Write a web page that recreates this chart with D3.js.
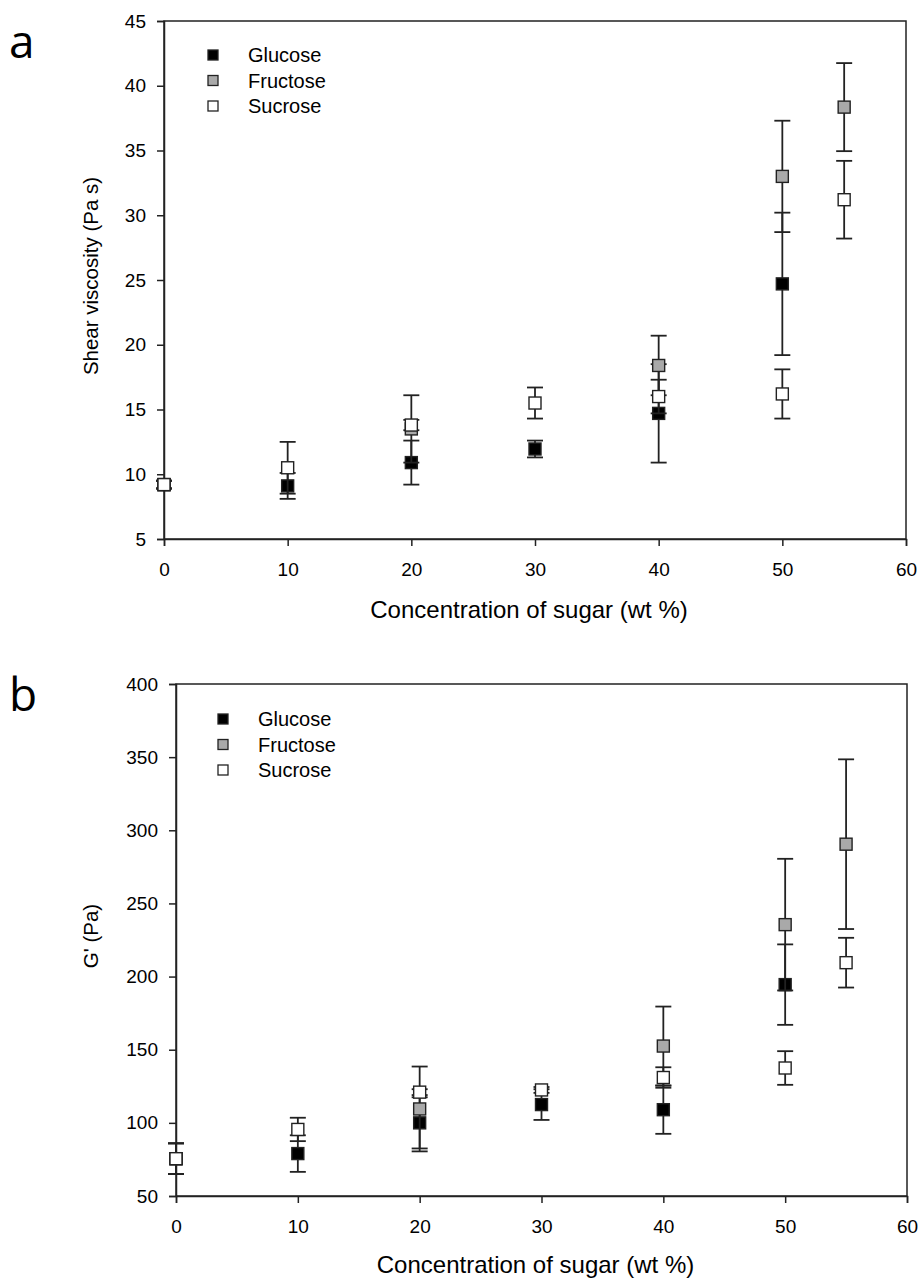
<!DOCTYPE html>
<html>
<head>
<meta charset="utf-8">
<script src="https://cdn.jsdelivr.net/npm/d3@7"></script>
<style>
  body { margin: 0; background: #fff; }
  svg text { font-family: "Liberation Sans", Arial, sans-serif; fill: #000; }
  .panel-letter { font-family: "Open Sans", "DejaVu Sans", sans-serif; }
</style>
</head>
<body>
<div id="chart"></div>
<script>
// sugar concentrations (wt %)
const concentrations = [0, 10, 20, 30, 40, 50, 55];
const seriesNames = ["Glucose", "Fructose", "Sucrose"];
const seriesFills = ["#000000", "#a9a9a9", "#ffffff"];

// panel a: shear viscosity (Pa s)
const glucoseViscosity = [9.2, 9.1, 10.9, 11.95, 14.7, 24.7, null];
const glucoseViscosityErr = [0.3, 1.0, 1.7, 0.65, 3.8, 5.5, null];
const fructoseViscosity = [9.2, null, 13.5, null, 18.4, 33.0, 38.35];
const fructoseViscosityErr = [0.3, null, 2.6, null, 2.3, 4.3, 3.4];
const sucroseViscosity = [9.2, 10.5, 13.8, 15.5, 16.0, 16.2, 31.2];
const sucroseViscosityErr = [0.3, 2.0, 0.4, 1.2, 1.3, 1.9, 3.0];

// panel b: G' (Pa)
const glucoseModulus = [75.5, 79, 100, 112.5, 109, 194.5, null];
const glucoseModulusErr = [10.5, 12.5, 17.5, 10.5, 16.5, 27.5, null];
const fructoseModulus = [75.5, null, 109.5, null, 152.5, 235.5, 290.5];
const fructoseModulusErr = [10.5, null, 29, null, 27, 45, 58];
const sucroseModulus = [75.5, 95.5, 121, 122.5, 131, 137.5, 209.5];
const sucroseModulusErr = [10.5, 8, 2, 2, 7, 11.5, 17];

const xTicks = [0, 10, 20, 30, 40, 50, 60];
const viscosityTicks = [5, 10, 15, 20, 25, 30, 35, 40, 45];
const modulusTicks = [50, 100, 150, 200, 250, 300, 350, 400];

const width = 921, height = 1279;
const svg = d3.select("#chart").append("svg")
  .attr("width", width)
  .attr("height", height);

function drawPanel(cfg) {
  const x = d3.scaleLinear().domain([0, 60]).range([cfg.left, cfg.right]);
  const y = d3.scaleLinear().domain(cfg.yDomain).range([cfg.bottom, cfg.top]);

  const g = svg.append("g");

  // frame
  g.append("rect")
    .attr("x", cfg.left).attr("y", cfg.top)
    .attr("width", cfg.right - cfg.left).attr("height", cfg.bottom - cfg.top)
    .attr("fill", "none").attr("stroke", "#222").attr("stroke-width", 1.5);

  const xAxis = g.append("g")
    .attr("transform", `translate(0,${cfg.bottom})`)
    .call(d3.axisBottom(x).tickValues(xTicks).tickSize(7).tickPadding(17));
  const yAxis = g.append("g")
    .attr("transform", `translate(${cfg.left},0)`)
    .call(d3.axisLeft(y).tickValues(cfg.yTicks).tickSize(7).tickPadding(11));

  [xAxis, yAxis].forEach(ax => {
    ax.select(".domain").attr("stroke", "#222").attr("stroke-width", 1.5);
    ax.selectAll(".tick line").attr("stroke", "#222").attr("stroke-width", 1.5);
    ax.selectAll(".tick text").style("font-size", "19px").attr("fill", "#000");
  });

  // axis titles
  g.append("text")
    .attr("x", (cfg.left + cfg.right) / 2 - 6)
    .attr("y", cfg.xLabelY)
    .attr("text-anchor", "middle")
    .style("font-size", "24px")
    .text("Concentration of sugar (wt %)");

  g.append("text")
    .attr("transform", `translate(98,${(cfg.top + cfg.bottom) / 2 - 4}) rotate(-90)`)
    .attr("text-anchor", "middle")
    .style("font-size", "20.5px")
    .text(cfg.yLabel);

  g.append("text")
    .attr("class", "panel-letter")
    .attr("x", 9)
    .attr("y", cfg.letterY)
    .style("font-size", "46px")
    .text(cfg.letter);

  const capW = 8, markerSize = 12;

  cfg.series.forEach((s, si) => {
    const pts = concentrations.map((c, i) => ({ c, v: s.values[i], e: s.errors[i] }))
      .filter(d => d.v != null);
    const sg = g.append("g");

    pts.forEach(d => {
      const px = x(d.c);
      const yTop = y(d.v + d.e), yBot = y(d.v - d.e);
      sg.append("line")
        .attr("x1", px).attr("x2", px).attr("y1", yTop).attr("y2", yBot)
        .attr("stroke", "#222").attr("stroke-width", 1.8);
      [yTop, yBot].forEach(yy => {
        sg.append("line")
          .attr("x1", px - capW).attr("x2", px + capW).attr("y1", yy).attr("y2", yy)
          .attr("stroke", "#222").attr("stroke-width", 1.8);
      });
    });

    sg.selectAll("rect.marker")
      .data(pts)
      .enter().append("rect")
      .attr("class", "marker")
      .attr("x", d => x(d.c) - markerSize / 2)
      .attr("y", d => y(d.v) - markerSize / 2)
      .attr("width", markerSize)
      .attr("height", markerSize)
      .attr("fill", seriesFills[si])
      .attr("stroke", "#222")
      .attr("stroke-width", 1.4);
  });

  // legend
  const legend = g.append("g");
  seriesNames.forEach((name, i) => {
    const ly = cfg.legendY + i * 25.5;
    legend.append("rect")
      .attr("x", cfg.legendX - 5).attr("y", ly - 5)
      .attr("width", 10).attr("height", 10)
      .attr("fill", seriesFills[i]).attr("stroke", "#222").attr("stroke-width", 1.3);
    legend.append("text")
      .attr("x", cfg.legendX + 35)
      .attr("y", ly + 7)
      .style("font-size", "20px")
      .text(name);
  });
}

drawPanel({
  letter: "a", letterY: 58,
  left: 164, right: 906, top: 21, bottom: 539,
  yDomain: [5, 45], yTicks: viscosityTicks,
  yLabel: "Shear viscosity (Pa s)",
  xLabelY: 618,
  legendX: 213, legendY: 55,
  series: [
    { values: glucoseViscosity, errors: glucoseViscosityErr },
    { values: fructoseViscosity, errors: fructoseViscosityErr },
    { values: sucroseViscosity, errors: sucroseViscosityErr }
  ]
});

drawPanel({
  letter: "b", letterY: 711,
  left: 176, right: 907, top: 684, bottom: 1196,
  yDomain: [50, 400], yTicks: modulusTicks,
  yLabel: "G' (Pa)",
  xLabelY: 1273,
  legendX: 223, legendY: 719,
  series: [
    { values: glucoseModulus, errors: glucoseModulusErr },
    { values: fructoseModulus, errors: fructoseModulusErr },
    { values: sucroseModulus, errors: sucroseModulusErr }
  ]
});
</script>
</body>
</html>
